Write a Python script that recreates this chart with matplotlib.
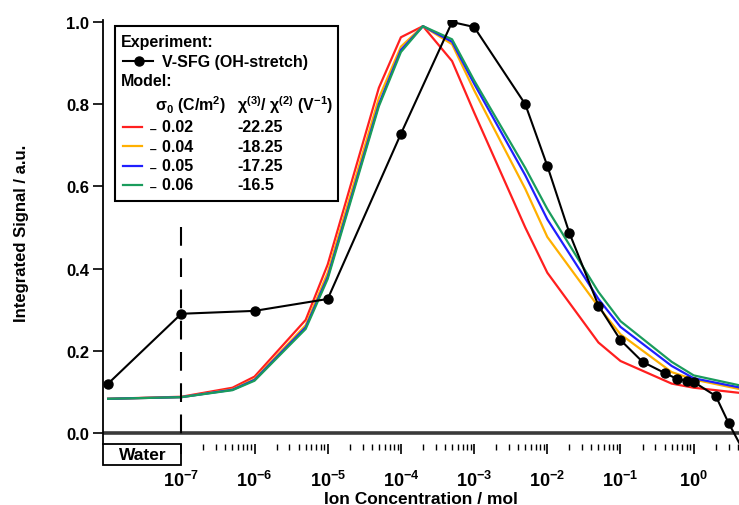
import numpy as np
import matplotlib.pyplot as plt
from matplotlib.patches import Rectangle
from matplotlib.lines import Line2D
from matplotlib.ticker import FixedLocator, LogFormatterMathtext

plt.rcParams['font.family'] = ['Liberation Sans', 'DejaVu Sans']
plt.rcParams['font.weight'] = 'bold'
plt.rcParams['mathtext.fontset'] = 'custom'
plt.rcParams['mathtext.rm'] = 'Liberation Sans'
plt.rcParams['mathtext.bf'] = 'Liberation Sans:bold'
plt.rcParams['mathtext.it'] = 'Liberation Sans:italic'
plt.rcParams['mathtext.default'] = 'bf'

# experiment (V-SFG, OH stretch); first point = pure water
exp_conc = [1e-8, 1e-7, 1e-6, 1e-5, 1e-4, 5e-4, 1e-3, 5e-3, 1e-2, 2e-2, 5e-2,
            0.1, 0.2, 0.4, 0.6, 0.8, 1.0, 2.0, 3.0, 5.0]
exp_signal = [0.12, 0.29, 0.297, 0.326, 0.728, 1.0, 0.988, 0.80, 0.65, 0.487, 0.31,
              0.226, 0.173, 0.146, 0.131, 0.127, 0.124, 0.09, 0.024, -0.05]

# model curves
model_conc = [1e-8, 1e-7, 5e-7, 1e-6, 5e-6, 1e-5, 5e-5, 1e-4, 2e-4, 5e-4,
              1e-3, 5e-3, 1e-2, 5e-2, 0.1, 0.5, 1.0, 5.0]
model_red = [0.083, 0.088, 0.110, 0.137, 0.275, 0.41, 0.84, 0.963, 0.99, 0.905,
             0.78, 0.50, 0.39, 0.22, 0.175, 0.12, 0.11, 0.096]
model_orange = [0.083, 0.087, 0.106, 0.131, 0.262, 0.39, 0.815, 0.94, 0.99, 0.946,
                0.834, 0.594, 0.477, 0.307, 0.24, 0.148, 0.13, 0.104]
model_blue = [0.083, 0.087, 0.105, 0.129, 0.257, 0.38, 0.80, 0.932, 0.99, 0.952,
              0.85, 0.627, 0.52, 0.326, 0.258, 0.163, 0.133, 0.108]
model_green = [0.083, 0.087, 0.104, 0.127, 0.253, 0.375, 0.795, 0.927, 0.99, 0.958,
               0.858, 0.645, 0.545, 0.343, 0.272, 0.173, 0.14, 0.113]

sigma0 = ['0.02', '0.04', '0.05', '0.06']
chi_ratio = ['-22.25', '-18.25', '-17.25', '-16.5']
colors = ['#ff1f1f', '#ffb000', '#1f1fff', '#1a9c5c']
xticks = [1e-7, 1e-6, 1e-5, 1e-4, 1e-3, 1e-2, 1e-1, 1e0]

W, H = 739, 506
fig = plt.figure(figsize=(W / 100, H / 100), dpi=100)
ax = fig.add_axes([103 / W, 1 - 445 / H, 636 / W, 424 / H])

for ys, c in zip([model_red, model_orange, model_blue, model_green], colors):
    ax.plot(model_conc, ys, color=c, lw=1.6)
ax.plot(exp_conc, exp_signal, color='black', lw=1.5, marker='o', ms=6.5)

ax.axhline(0, color='#3a3a3a', lw=2.6, zorder=1)
ax.plot([1e-7, 1e-7], [0.5, -0.027], color='black', lw=1.5,
        dashes=(9, 6), clip_on=False)

xmin = 10 ** -8.07
ax.set_xscale('log')
ax.set_xlim(xmin, 10 ** 0.619)
ax.set_ylim(-0.027, 1.005)

for s in ['top', 'right', 'bottom']:
    ax.spines[s].set_visible(False)
ax.spines['left'].set_linewidth(1.3)

ax.xaxis.set_major_locator(FixedLocator(xticks))
minor = [m * 10.0 ** e for e in range(-7, 1) for m in range(2, 10)]
ax.xaxis.set_minor_locator(FixedLocator([v for v in minor if v < 4.2]))
ax.xaxis.set_major_formatter(LogFormatterMathtext())
ax.tick_params(axis='x', which='major', length=7, width=1.2, pad=12, labelsize=13)
ax.tick_params(axis='x', which='minor', length=4, width=1.0)
ax.set_yticks([0.0, 0.2, 0.4, 0.6, 0.8, 1.0])
ax.set_yticklabels(['0.0', '0.2', '0.4', '0.6', '0.8', '1.0'])
ax.tick_params(axis='y', length=7, width=1.2, pad=3, labelsize=12)

ax.set_ylabel('Integrated Signal / a.u.', fontsize=12, fontweight='bold', labelpad=27)
ax.set_xlabel('Ion Concentration / mol', fontsize=12.5, fontweight='bold')
ax.xaxis.set_label_coords(0.5, -0.111)

# water box below the axis
ax.add_patch(Rectangle((xmin, -0.078), 1e-7 - xmin, 0.051,
                       fill=False, ec='black', lw=1.3, clip_on=False))
ax.text(10 ** -7.53, -0.053, 'Water', ha='center', va='center', fontsize=12.5,
        fontweight='bold')


def fp(x, y):
    return x / W, 1 - y / H


# legend built by hand
x0, y0 = fp(115, 202)
x1, y1 = fp(338, 27)
fig.add_artist(Rectangle((x0, y0), x1 - x0, y1 - y0, transform=fig.transFigure,
                         fill=False, ec='black', lw=1.5))
fs = 11.5
fig.text(*fp(121, 43), 'Experiment:', fontsize=fs, va='center')
lx = [fp(123, 62)[0], fp(153, 62)[0]]
fig.add_artist(Line2D(lx, [fp(0, 62)[1]] * 2, color='black', lw=1.5,
                      transform=fig.transFigure))
fig.add_artist(Line2D([fp(139, 62)[0]], [fp(0, 62)[1]], color='black', marker='o',
                      ms=6.5, transform=fig.transFigure))
fig.text(*fp(162, 62), 'V-SFG (OH-stretch)', fontsize=fs, va='center')
fig.text(*fp(121, 82), 'Model:', fontsize=fs, va='center')
fig.text(*fp(155, 105), r'$\mathrm{\sigma_0}$ (C/m$^2$)', fontsize=fs, va='center')
fig.text(*fp(237, 105), r'$\mathrm{\chi^{(3)}}$/ $\mathrm{\chi^{(2)}}$ (V$^{-1}$)',
         fontsize=fs, va='center')
for i, (s, c, col) in enumerate(zip(sigma0, chi_ratio, colors)):
    yy = 128 + i * 19.3
    fig.add_artist(Line2D([fp(123, yy)[0], fp(142, yy)[0]], [fp(0, yy)[1]] * 2,
                          color=col, lw=1.6, transform=fig.transFigure))
    fig.text(*fp(149, yy), '\u208b ' + s, fontsize=fs, va='center')
    fig.text(*fp(237, yy), c, fontsize=fs, va='center')

fig.savefig('out.png', dpi=100)
